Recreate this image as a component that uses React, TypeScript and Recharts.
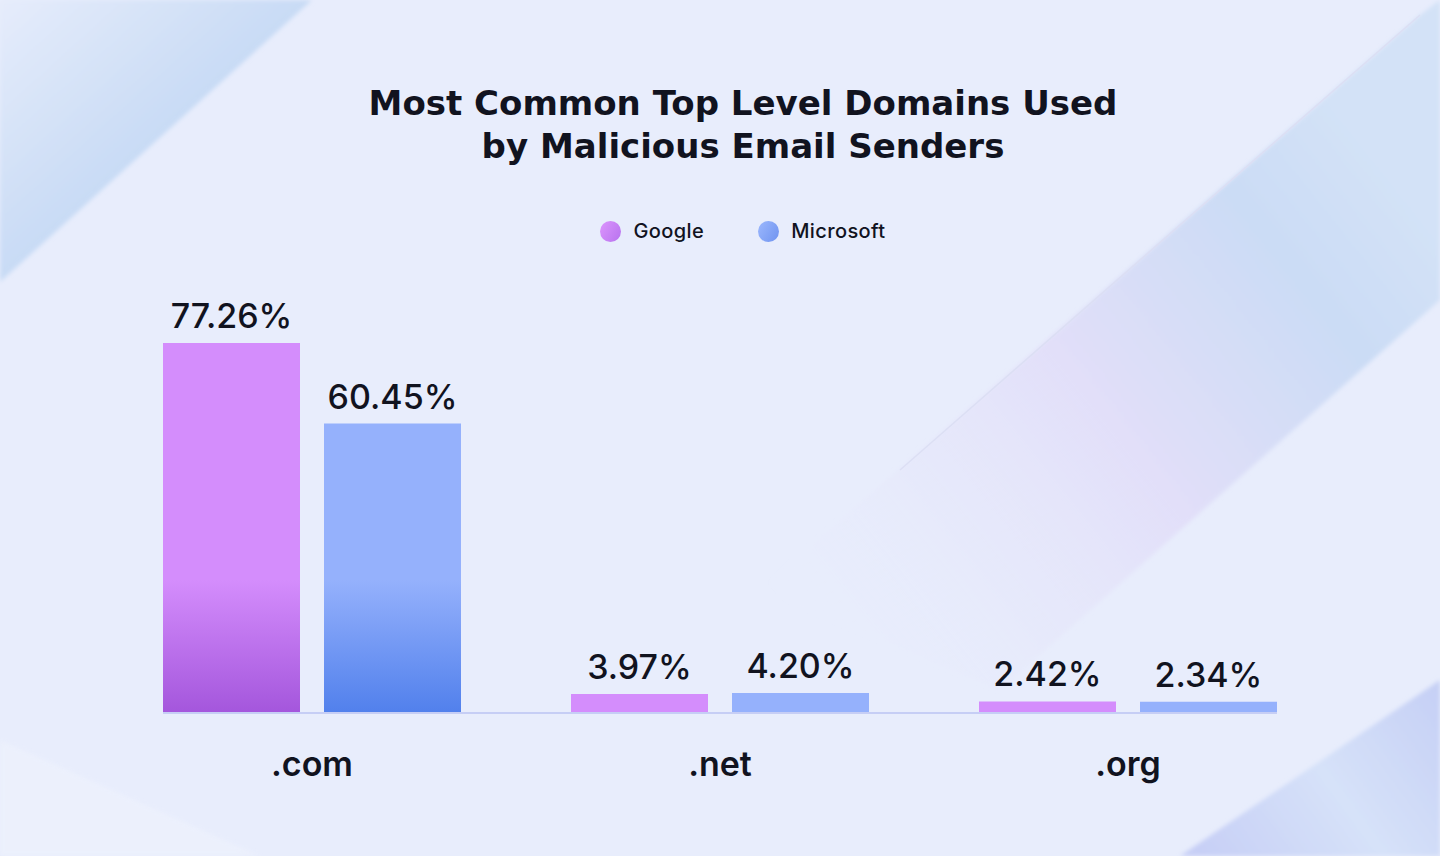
import React from "react";
import {
  Bar,
  BarChart,
  Cell,
  LabelList,
  ReferenceLine,
  XAxis,
  YAxis,
} from "recharts";

const categories = [".com", ".net", ".org"];
const googleShare = [77.26, 3.97, 2.42];
const microsoftShare = [60.45, 4.2, 2.34];
const seriesNames = ["Google", "Microsoft"];
const titleLines = [
  "Most Common Top Level Domains Used",
  "by Malicious Email Senders",
];

const WIDTH = 1440;
const HEIGHT = 856;
const AXIS_H = 80;
const CATEGORY_GAP = 55;
const margin = { top: 330, right: 108, bottom: 63, left: 108 };
const plotBottom = HEIGHT - margin.bottom - AXIS_H;
// short bars stay flat, only the tall ones pick up the darker foot
const GRADIENT_MIN = 10;

const INK = "#11131f";
const LABEL_FONT = "Inter, 'Noto Sans', sans-serif";
const TITLE_FONT = "'DejaVu Sans', 'Noto Sans', sans-serif";

const palette = [
  { top: "#d48dfc", bottom: "#a456dc", dot: "linear-gradient(120deg, #dc95fd, #b772ee)" },
  { top: "#95b1fc", bottom: "#5180ec", dot: "linear-gradient(120deg, #9cb8fd, #6f93f0)" },
];

const data = categories.map((domain, i) => ({
  domain,
  google: googleShare[i],
  microsoft: microsoftShare[i],
}));

const seriesKeys = ["google", "microsoft"];

const formatPct = (v: number) => `${Number(v).toFixed(2)}%`;

function CategoryTick(props: any) {
  const { x, y, payload } = props;
  return (
    <text
      x={x}
      y={y}
      dy={63}
      textAnchor="middle"
      fill={INK}
      fontFamily={LABEL_FONT}
      fontSize={34}
      fontWeight={600}
    >
      {payload.value}
    </text>
  );
}

function Baseline(props: any) {
  const { x1, x2, y1 } = props;
  return (
    <line
      x1={x1 + CATEGORY_GAP}
      x2={x2 - CATEGORY_GAP}
      y1={y1}
      y2={y1}
      stroke="#c6cef5"
      strokeWidth={2}
    />
  );
}

function Backdrop() {
  return (
    <svg
      width={WIDTH}
      height={HEIGHT}
      style={{ position: "absolute", left: 0, top: 0 }}
    >
      <defs>
        <linearGradient id="bgTL" x1="0" y1="0" x2="1" y2="1">
          <stop offset="0" stopColor="#e6ecfb" />
          <stop offset="0.5" stopColor="#c8dbf5" />
          <stop offset="1" stopColor="#cde0f6" />
        </linearGradient>
        <linearGradient
          id="bgBand"
          gradientUnits="userSpaceOnUse"
          x1="860"
          y1="700"
          x2="1440"
          y2="240"
        >
          <stop offset="0" stopColor="#e8ecfb" stopOpacity="0" />
          <stop offset="0.5" stopColor="#e2dff9" />
          <stop offset="0.82" stopColor="#cbdcf5" />
          <stop offset="1" stopColor="#d3e2f7" />
        </linearGradient>
        <linearGradient
          id="bgBR"
          gradientUnits="userSpaceOnUse"
          x1="1200"
          y1="856"
          x2="1440"
          y2="680"
        >
          <stop offset="0" stopColor="#c7cff6" />
          <stop offset="0.5" stopColor="#d6e2f9" />
          <stop offset="1" stopColor="#c5cff5" />
        </linearGradient>
        <filter id="soft">
          <feGaussianBlur stdDeviation="2" />
        </filter>
      </defs>
      <rect width={WIDTH} height={HEIGHT} fill="#e8edfc" />
      <polygon points="0,0 312,0 0,282" fill="url(#bgTL)" filter="url(#soft)" />
      <polygon
        points="1420,15 1440,0 1440,300 1000,690 760,590"
        fill="url(#bgBand)"
        filter="url(#soft)"
      />
      <line x1="1420" y1="15" x2="900" y2="470" stroke="#dcdff4" strokeWidth="1.5" />
      <polygon
        points="1180,856 1440,680 1440,856"
        fill="url(#bgBR)"
        filter="url(#soft)"
      />
      <polygon
        points="0,856 0,740 260,856"
        fill="#eef2fd"
        opacity="0.7"
        filter="url(#soft)"
      />
    </svg>
  );
}

export default function App() {
  return (
    <div
      style={{
        position: "absolute",
        left: 0,
        top: 0,
        width: WIDTH,
        height: HEIGHT,
        overflow: "hidden",
        background: "#e8edfc",
      }}
    >
      <Backdrop />
      <div
        style={{
          position: "absolute",
          top: 82,
          left: 0,
          width: WIDTH,
          paddingLeft: 46,
          boxSizing: "border-box",
          textAlign: "center",
          fontFamily: TITLE_FONT,
          fontSize: 34,
          fontWeight: 700,
          lineHeight: "43px",
          color: INK,
        }}
      >
        {titleLines.map((line) => (
          <div key={line}>{line}</div>
        ))}
      </div>
      <div
        style={{
          position: "absolute",
          top: 218,
          left: 0,
          width: WIDTH,
          paddingLeft: 46,
          boxSizing: "border-box",
          display: "flex",
          justifyContent: "center",
          gap: 54,
          fontFamily: LABEL_FONT,
          fontSize: 20,
          fontWeight: 500,
          letterSpacing: 0.4,
          color: INK,
        }}
      >
        {seriesNames.map((name, i) => (
          <div
            key={name}
            style={{ display: "flex", alignItems: "center", gap: 12, height: 26 }}
          >
            <span
              style={{
                width: 21,
                height: 21,
                borderRadius: "50%",
                background: palette[i].dot,
                display: "inline-block",
              }}
            />
            <span>{name}</span>
          </div>
        ))}
      </div>
      <div style={{ position: "absolute", left: 0, top: 0 }}>
        <BarChart
          width={WIDTH}
          height={HEIGHT}
          data={data}
          margin={margin}
          barCategoryGap={CATEGORY_GAP}
          barGap={24}
        >
          <defs>
            {seriesKeys.map((key, i) => (
              <linearGradient
                key={key}
                id={`fill-${key}`}
                gradientUnits="userSpaceOnUse"
                x1="0"
                y1={plotBottom - 190}
                x2="0"
                y2={plotBottom}
              >
                <stop offset="0" stopColor={palette[i].top} />
                <stop offset="0.3" stopColor={palette[i].top} />
                <stop offset="1" stopColor={palette[i].bottom} />
              </linearGradient>
            ))}
          </defs>
          <XAxis
            dataKey="domain"
            axisLine={false}
            tickLine={false}
            tickSize={0}
            tickMargin={0}
            height={AXIS_H}
            tick={<CategoryTick />}
            interval={0}
          />
          <YAxis hide domain={[0, 80]} width={0} />
          {seriesKeys.map((key, i) => (
            <Bar
              key={key}
              dataKey={key}
              name={seriesNames[i]}
              fill={palette[i].top}
              isAnimationActive={false}
            >
              {data.map((row: any) => (
                <Cell
                  key={`${key}-${row.domain}`}
                  fill={
                    row[key] >= GRADIENT_MIN
                      ? `url(#fill-${key})`
                      : palette[i].top
                  }
                />
              ))}
              <LabelList
                dataKey={key}
                position="top"
                offset={15}
                formatter={formatPct}
                fill={INK}
                fontFamily={LABEL_FONT}
                fontSize={34}
                fontWeight={500}
              />
            </Bar>
          ))}
          <ReferenceLine y={0} shape={<Baseline />} />
        </BarChart>
      </div>
    </div>
  );
}
